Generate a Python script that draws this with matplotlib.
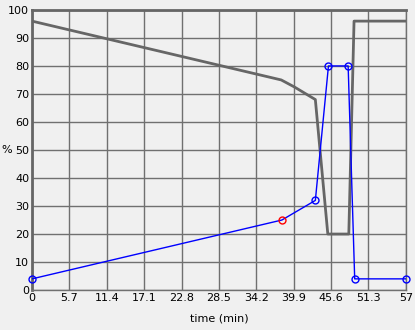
import numpy as np
import matplotlib.pyplot as plt

# gray profile (%)
gray_t = [0, 38.0, 40.0, 43.2, 45.1, 48.3, 49.1, 57]
gray_v = [96, 75, 72.5, 68, 20, 20, 96, 96]
# blue measured points (%)
blue_t = [0, 38.1, 43.2, 45.2, 48.2, 49.2, 57]
blue_v = [4, 25, 32, 80, 80, 4, 4]
red_idx = 1

xticks = [0, 5.7, 11.4, 17.1, 22.8, 28.5, 34.2, 39.9, 45.6, 51.3, 57]
xticklabels = ['0', '5.7', '11.4', '17.1', '22.8', '28.5', '34.2', '39.9', '45.6', '51.3', '57']
yticks = list(range(0, 101, 10))

fig = plt.figure(figsize=(4.15, 3.3), dpi=100, facecolor='#f0f0f0')
ax = fig.add_axes([0.077, 0.121, 0.901, 0.849])
ax.set_facecolor('#f0f0f0')

ax.plot(gray_t, gray_v, color='#666666', lw=2, zorder=3)
ax.plot(blue_t, blue_v, color='#0000ff', lw=1, zorder=4)
cols = ['#0000ff'] * len(blue_t)
cols[red_idx] = '#ff0000'
for t, v, c in zip(blue_t, blue_v, cols):
    ax.plot(t, v, 'o', mfc='none', mec=c, ms=5, mew=1, zorder=5, clip_on=False)

ax.set_xlim(0, 57)
ax.set_ylim(0, 100)
ax.set_xticks(xticks)
ax.set_xticklabels(xticklabels)
ax.set_yticks(yticks)
ax.grid(True, color='#707070', lw=1)
ax.set_axisbelow(True)
ax.tick_params(length=0, labelsize=8, pad=2)
for s in ['left', 'top']:
    ax.spines[s].set_color('#666666')
    ax.spines[s].set_linewidth(2)
for s in ['right', 'bottom']:
    ax.spines[s].set_color('#707070')
    ax.spines[s].set_linewidth(1)

ax.set_xlabel('time (min)', fontsize=8, labelpad=8)
fig.text(0.003, 1 - 150 / 330, '%', fontsize=8, ha='left', va='center')

fig.savefig('out.png', dpi=100, facecolor=fig.get_facecolor())
